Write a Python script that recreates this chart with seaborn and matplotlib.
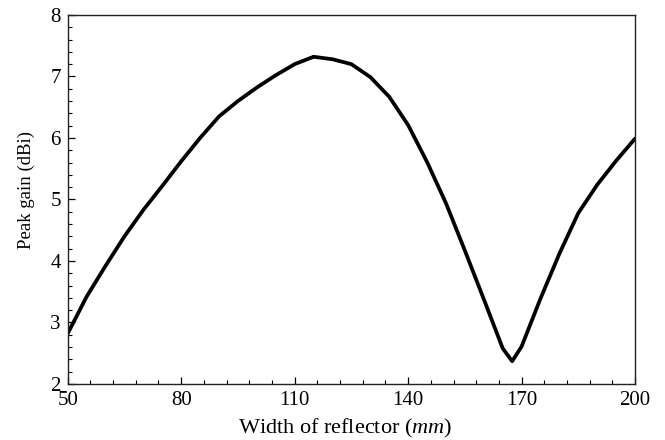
import matplotlib
matplotlib.use("Agg")
import matplotlib.pyplot as plt
import seaborn as sns
import pandas as pd
from matplotlib.ticker import MultipleLocator

width_mm = [50, 55, 60, 65, 70, 75, 80, 85, 90, 95, 100, 105, 110, 115, 120, 125,
            130, 135, 140, 145, 150, 155, 160, 165, 167.5, 170, 175, 180, 185, 190, 195, 200]
peak_gain = [2.82, 3.42, 3.92, 4.40, 4.83, 5.22, 5.62, 6.00, 6.35, 6.60, 6.82, 7.02, 7.20, 7.32, 7.28, 7.20,
             6.99, 6.67, 6.21, 5.61, 4.94, 4.17, 3.38, 2.58, 2.37, 2.61, 3.39, 4.12, 4.78, 5.24, 5.63, 5.99]

df = pd.DataFrame({"w": width_mm, "g": peak_gain})

sns.set_style("white")
plt.rcParams['font.family'] = ['Liberation Serif', 'DejaVu Serif']
plt.rcParams['mathtext.fontset'] = 'custom'
plt.rcParams['mathtext.it'] = 'Liberation Serif:italic'
plt.rcParams['mathtext.rm'] = 'Liberation Serif'

fig = plt.figure(figsize=(6.65, 4.4), dpi=100)
ax = fig.add_axes([0.1018, 0.1273, 0.8532, 0.8387])
sns.lineplot(data=df, x="w", y="g", ax=ax, color="black", linewidth=2.7, sort=False)

ax.set_xlim(50, 200)
ax.set_ylim(2, 8)
ax.xaxis.set_major_locator(MultipleLocator(30, offset=20))
ax.xaxis.set_minor_locator(MultipleLocator(6, offset=2))
ax.yaxis.set_major_locator(MultipleLocator(1))
ax.yaxis.set_minor_locator(MultipleLocator(0.2))
ax.tick_params(which="both", direction="in", top=False, right=False, bottom=True, left=True,
               labelsize=15, color="black", labelcolor="black")
ax.tick_params(axis="x", pad=5)
ax.tick_params(axis="y", pad=5)
ax.tick_params(which="major", length=5, width=0.9)
ax.tick_params(which="minor", length=3, width=0.8)
for s in ax.spines.values():
    s.set_color("#222222")
    s.set_linewidth(1.0)

ax.set_xlabel("Width of reflector ($\\it{mm}$)", fontsize=16, color="black")
ax.set_ylabel("Peak gain (dBi)", fontsize=13.5, color="black")
ax.xaxis.set_label_coords(0.489, -0.09)
ax.yaxis.set_label_coords(-0.058, 0.526)

fig.savefig("out.png", dpi=100)
